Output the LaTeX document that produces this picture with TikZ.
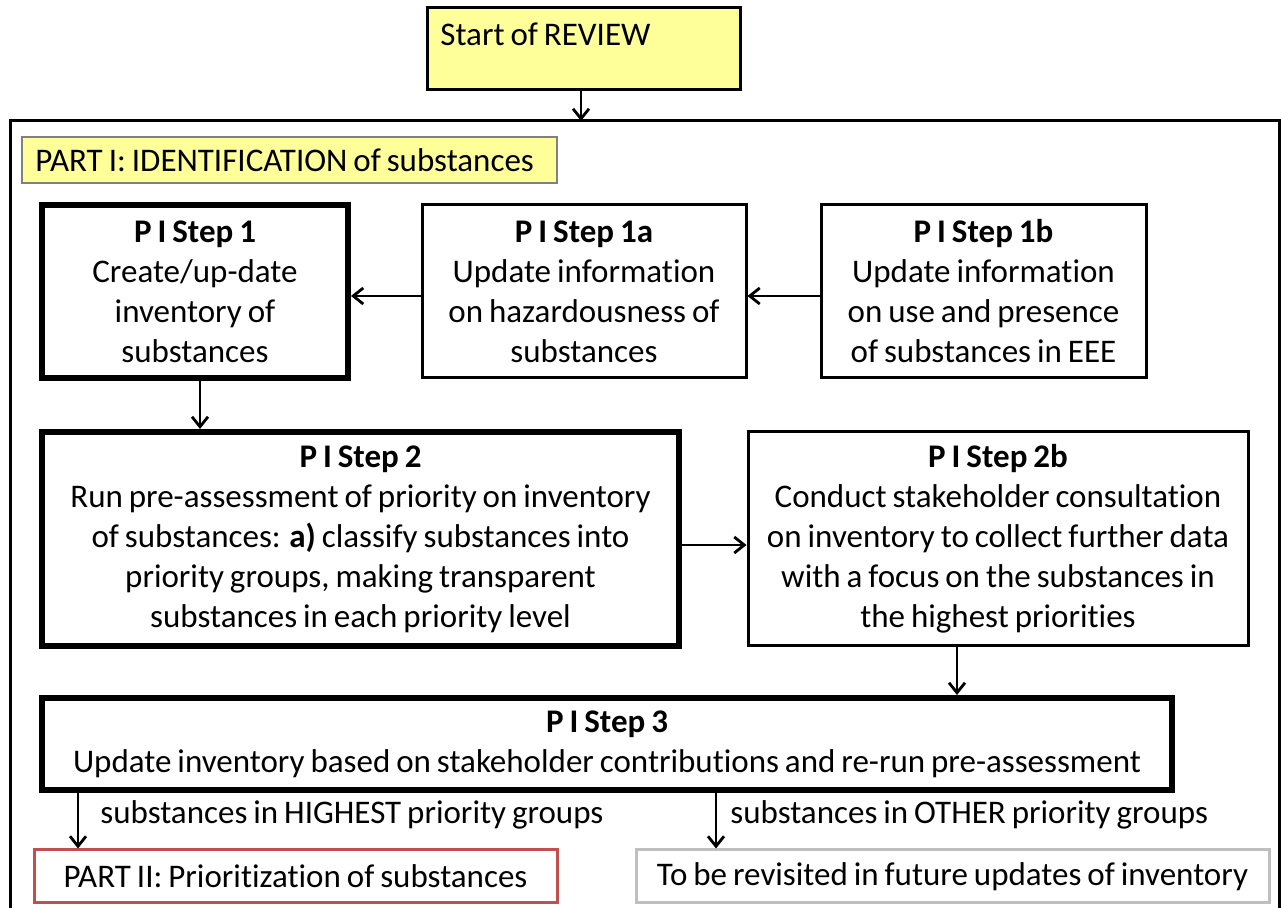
\documentclass[tikz,border=0pt]{standalone}
\usepackage{fontspec}
\setmainfont{Carlito}[Ligatures=NoCommon,WordSpace=0.8]
\usetikzlibrary{arrows.meta}
\definecolor{ylw}{HTML}{FFFF99}
\definecolor{redb}{HTML}{C0504D}
\definecolor{grayb}{HTML}{BFBFBF}
\begin{document}
\begin{tikzpicture}[x=0.5pt,y=-0.5pt,
  every node/.style={font=\fontsize{16.5}{20}\selectfont},
  box/.style={draw=black,line width=1.5pt,fill=white,align=center,inner sep=0pt},
  thickbox/.style={box,line width=3pt},
  arr/.style={line width=1.4pt,-{Straight Barb[length=5pt,width=8pt,line width=1.4pt]}},
  lbl/.style={anchor=west,inner sep=0pt}]
\path[use as bounding box] (0,0) rectangle (1281,908);
% outer frame (three visible sides)
\coordinate (ftop) at (581,121);
\draw[line width=1.5pt] (10,910) -- (10,121) -- (1279,121) -- (1279,910);
% start
\node[box,fill=ylw,minimum width=156.5pt,minimum height=41pt] (start) at (583.5,49) {};
\node[lbl] (startt) at (440,34) {Start of REVIEW};
\draw[arr] (ftop |- start.south) -- (ftop);
% part I label
\node[draw=gray,line width=0.6pt,fill=ylw,minimum width=267.5pt,minimum height=23pt,inner sep=0pt] (part1) at (289.5,160) {};
\node[lbl] (part1t) at (35,160) {PART I: IDENTIFICATION of substances};
% step boxes
\node[thickbox,minimum width=153pt,minimum height=86.5pt] (s1) at (195,291.5) {\textbf{P I Step 1}\\Create/up-date\\inventory of\\substances};
\node[box,minimum width=162pt,minimum height=86.5pt] (s1a) at (584,291.5) {\textbf{P I Step 1a}\\Update information\\on hazardousness of\\substances};
\node[box,minimum width=162.5pt,minimum height=86.5pt] (s1b) at (983.5,291.5) {\textbf{P I Step 1b}\\Update information\\on use and presence\\of substances in EEE};
\node[thickbox,minimum width=318.5pt,minimum height=107pt] (s2) at (360.5,539) {\textbf{P I Step 2}\\Run pre-assessment of priority on inventory\\of substances: \textbf{a)} classify substances into\\priority groups, making transparent\\substances in each priority level};
\node[box,minimum width=250pt,minimum height=107pt] (s2b) at (998,539) {\textbf{P I Step 2b}\\Conduct stakeholder consultation\\on inventory to collect further data\\with a focus on the substances in\\the highest priorities};
\node[thickbox,minimum width=565pt,minimum height=46pt] (s3) at (607,744) {\textbf{P I Step 3}\\Update inventory based on stakeholder contributions and re-run pre-assessment};
\node[box,draw=redb,minimum width=261.5pt,minimum height=26.5pt] (p2) at (295.5,876.5) {PART II: Prioritization of substances};
\node[box,draw=grayb,minimum width=316.5pt,minimum height=26.5pt] (rev) at (952.5,876.5) {To be revisited in future updates of inventory};
% connectors
\draw[arr] ([yshift=-2.25pt]s1a.west) -- ([yshift=-2.25pt]s1.east);
\draw[arr] ([yshift=-2.25pt]s1b.west) -- ([yshift=-2.25pt]s1a.east);
\coordinate (c1) at (200,0);
\draw[arr] (c1 |- s1.south) -- (c1 |- s2.north);
\draw[arr] ([yshift=-3pt]s2.east) -- ([yshift=-3pt]s2b.west);
\coordinate (c2) at (957,0);
\draw[arr] (c2 |- s2b.south) -- (c2 |- s3.north);
\coordinate (c3) at (78,0);
\draw[arr] (c3 |- s3.south) -- (c3 |- p2.north);
\coordinate (c4) at (716,0);
\draw[arr] (c4 |- s3.south) -- (c4 |- rev.north);
\node[lbl] (l1) at (100,815) {substances in HIGHEST priority groups};
\node[lbl] (l2) at (730,815) {substances in OTHER priority groups};
\end{tikzpicture}
\end{document}
